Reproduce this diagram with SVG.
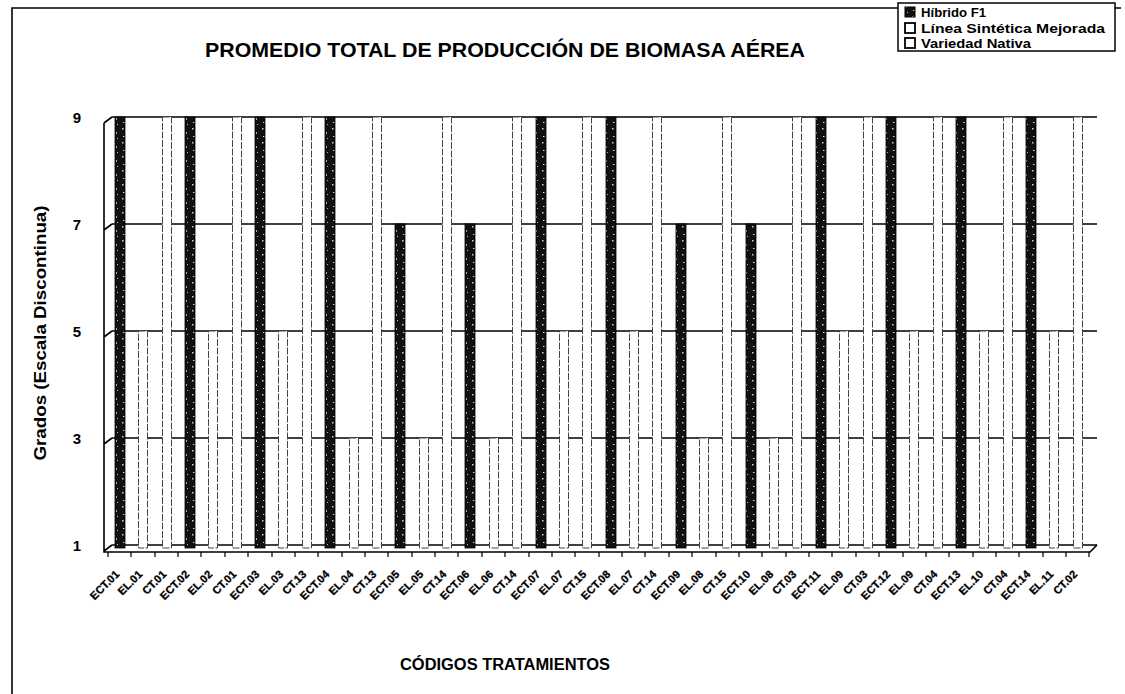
<svg xmlns="http://www.w3.org/2000/svg" width="1125" height="694" viewBox="0 0 1125 694">
<defs>
<pattern id="spk" width="10" height="14" patternUnits="userSpaceOnUse">
<rect width="10" height="14" fill="#111"/>
<rect x="2" y="2" width="1.5" height="1.5" fill="#ccc"/>
<rect x="6" y="6" width="1" height="2" fill="#aaa"/>
<rect x="3" y="10" width="1.5" height="1" fill="#ddd"/>
<rect x="7" y="12" width="1" height="1" fill="#bbb"/>
</pattern>
<style>
.t{font-family:"Liberation Sans",Arial,sans-serif;font-weight:bold;fill:#000}
.g{stroke:#000;stroke-width:1.6;fill:none}
.dk{fill:url(#spk);stroke:#000;stroke-width:0.8}
.wh{fill:#fff;stroke:#444;stroke-width:1;stroke-dasharray:7 1.5}
.xl{font-family:"Liberation Sans",Arial,sans-serif;font-weight:bold;font-size:11px;text-anchor:end;stroke:#000;stroke-width:0.3}
.tk{stroke:#000;stroke-width:1.2}
</style>
</defs>
<rect width="1125" height="694" fill="#fff"/>
<g id="frame">
<path d="M12 694 V8 H1121" fill="none" stroke="#000" stroke-width="1.6"/>
</g>
<text id="title" class="t" x="505" y="57" font-size="21" text-anchor="middle" textLength="600" lengthAdjust="spacingAndGlyphs">PROMEDIO TOTAL DE PRODUCCIÓN DE BIOMASA AÉREA</text>
<g id="legend">
<rect x="898" y="3" width="217" height="48" fill="#fff" stroke="#000" stroke-width="1.5"/>
<rect x="905" y="7" width="10" height="10" fill="url(#spk)" stroke="#000"/>
<rect x="905" y="23" width="10" height="10" fill="#fff" stroke="#000" stroke-width="1.8"/>
<rect x="905" y="38" width="10" height="10" fill="#fff" stroke="#000" stroke-width="1.8"/>
<text class="t" x="921" y="17" font-size="12.5" textLength="65" lengthAdjust="spacingAndGlyphs">Híbrido F1</text>
<text class="t" x="921" y="33" font-size="12.5" textLength="184" lengthAdjust="spacingAndGlyphs">Línea Sintética Mejorada</text>
<text class="t" x="921" y="48" font-size="12.5" textLength="110" lengthAdjust="spacingAndGlyphs">Variedad Nativa</text>
</g>
<g id="axes">
<text class="t" x="46" y="333" font-size="17" text-anchor="middle" transform="rotate(-90 46 333)" textLength="255" lengthAdjust="spacingAndGlyphs">Grados (Escala Discontinua)</text>
<g class="t" font-size="15" text-anchor="middle">
<text x="77" y="123">9</text>
<text x="77" y="230">7</text>
<text x="77" y="337">5</text>
<text x="77" y="444">3</text>
<text x="77" y="551">1</text>
</g>
<path class="g" d="M112 117 H1097 M112 224 H1097 M112 331 H1097 M112 438 H1097 M112 545 H1097"/>
<path class="g" d="M104 123 L112 117 M104 230 L112 224 M104 337 L112 331 M104 444 L112 438 M104 551 L112 545 M104 123 V552 H1090 L1097 545"/>
<path class="tk" d="M108 552V557M131 552V557M155 552V557M178 552V557M201 552V557M225 552V557M248 552V557M272 552V557M295 552V557M318 552V557M342 552V557M365 552V557M388 552V557M412 552V557M435 552V557M458 552V557M482 552V557M505 552V557M529 552V557M552 552V557M575 552V557M599 552V557M622 552V557M645 552V557M669 552V557M692 552V557M716 552V557M739 552V557M762 552V557M786 552V557M809 552V557M832 552V557M856 552V557M879 552V557M903 552V557M926 552V557M949 552V557M973 552V557M996 552V557M1019 552V557M1043 552V557M1066 552V557M1089 552V557"/>
<text class="t" x="505" y="670" font-size="16" text-anchor="middle" textLength="210" lengthAdjust="spacingAndGlyphs">CÓDIGOS TRATAMIENTOS</text>
</g>
<g id="bars-hibrido">
<rect class="dk" x="115" y="117" width="10" height="431"/>
<rect class="dk" x="185" y="117" width="10" height="431"/>
<rect class="dk" x="255" y="117" width="10" height="431"/>
<rect class="dk" x="325" y="117" width="10" height="431"/>
<rect class="dk" x="395" y="224" width="10" height="324"/>
<rect class="dk" x="465" y="224" width="10" height="324"/>
<rect class="dk" x="536" y="117" width="10" height="431"/>
<rect class="dk" x="606" y="117" width="10" height="431"/>
<rect class="dk" x="676" y="224" width="10" height="324"/>
<rect class="dk" x="746" y="224" width="10" height="324"/>
<rect class="dk" x="816" y="117" width="10" height="431"/>
<rect class="dk" x="886" y="117" width="10" height="431"/>
<rect class="dk" x="956" y="117" width="10" height="431"/>
<rect class="dk" x="1026" y="117" width="10" height="431"/>
</g>
<g id="bars-linea">
<rect class="wh" x="138.5" y="331" width="9" height="217"/>
<rect class="wh" x="208.5" y="331" width="9" height="217"/>
<rect class="wh" x="278.5" y="331" width="9" height="217"/>
<rect class="wh" x="349.5" y="438" width="9" height="110"/>
<rect class="wh" x="419.5" y="438" width="9" height="110"/>
<rect class="wh" x="489.5" y="438" width="9" height="110"/>
<rect class="wh" x="559.5" y="331" width="9" height="217"/>
<rect class="wh" x="629.5" y="331" width="9" height="217"/>
<rect class="wh" x="699.5" y="438" width="9" height="110"/>
<rect class="wh" x="769.5" y="438" width="9" height="110"/>
<rect class="wh" x="839.5" y="331" width="9" height="217"/>
<rect class="wh" x="909.5" y="331" width="9" height="217"/>
<rect class="wh" x="979.5" y="331" width="9" height="217"/>
<rect class="wh" x="1049.5" y="331" width="9" height="217"/>
</g>
<g id="bars-nativa">
<rect class="wh" x="162.5" y="117" width="9" height="431"/>
<rect class="wh" x="232.5" y="117" width="9" height="431"/>
<rect class="wh" x="302.5" y="117" width="9" height="431"/>
<rect class="wh" x="372.5" y="117" width="9" height="431"/>
<rect class="wh" x="442.5" y="117" width="9" height="431"/>
<rect class="wh" x="512.5" y="117" width="9" height="431"/>
<rect class="wh" x="582.5" y="117" width="9" height="431"/>
<rect class="wh" x="652.5" y="117" width="9" height="431"/>
<rect class="wh" x="722.5" y="117" width="9" height="431"/>
<rect class="wh" x="792.5" y="117" width="9" height="431"/>
<rect class="wh" x="863.5" y="117" width="9" height="431"/>
<rect class="wh" x="933.5" y="117" width="9" height="431"/>
<rect class="wh" x="1003.5" y="117" width="9" height="431"/>
<rect class="wh" x="1073.5" y="117" width="9" height="431"/>
</g>
<g id="xlabels">
<text class="xl" transform="translate(120 575) rotate(-45)">ECT.01</text>
<text class="xl" transform="translate(143 575) rotate(-45)">EL.01</text>
<text class="xl" transform="translate(167 575) rotate(-45)">CT.01</text>
<text class="xl" transform="translate(190 575) rotate(-45)">ECT.02</text>
<text class="xl" transform="translate(213 575) rotate(-45)">EL.02</text>
<text class="xl" transform="translate(237 575) rotate(-45)">CT.01</text>
<text class="xl" transform="translate(260 575) rotate(-45)">ECT.03</text>
<text class="xl" transform="translate(284 575) rotate(-45)">EL.03</text>
<text class="xl" transform="translate(307 575) rotate(-45)">CT.13</text>
<text class="xl" transform="translate(330 575) rotate(-45)">ECT.04</text>
<text class="xl" transform="translate(354 575) rotate(-45)">EL.04</text>
<text class="xl" transform="translate(377 575) rotate(-45)">CT.13</text>
<text class="xl" transform="translate(400 575) rotate(-45)">ECT.05</text>
<text class="xl" transform="translate(424 575) rotate(-45)">EL.05</text>
<text class="xl" transform="translate(447 575) rotate(-45)">CT.14</text>
<text class="xl" transform="translate(470 575) rotate(-45)">ECT.06</text>
<text class="xl" transform="translate(494 575) rotate(-45)">EL.06</text>
<text class="xl" transform="translate(517 575) rotate(-45)">CT.14</text>
<text class="xl" transform="translate(541 575) rotate(-45)">ECT.07</text>
<text class="xl" transform="translate(564 575) rotate(-45)">EL.07</text>
<text class="xl" transform="translate(587 575) rotate(-45)">CT.15</text>
<text class="xl" transform="translate(611 575) rotate(-45)">ECT.08</text>
<text class="xl" transform="translate(634 575) rotate(-45)">EL.07</text>
<text class="xl" transform="translate(657 575) rotate(-45)">CT.14</text>
<text class="xl" transform="translate(681 575) rotate(-45)">ECT.09</text>
<text class="xl" transform="translate(704 575) rotate(-45)">EL.08</text>
<text class="xl" transform="translate(727 575) rotate(-45)">CT.15</text>
<text class="xl" transform="translate(751 575) rotate(-45)">ECT.10</text>
<text class="xl" transform="translate(774 575) rotate(-45)">EL.08</text>
<text class="xl" transform="translate(797 575) rotate(-45)">CT.03</text>
<text class="xl" transform="translate(821 575) rotate(-45)">ECT.11</text>
<text class="xl" transform="translate(844 575) rotate(-45)">EL.09</text>
<text class="xl" transform="translate(868 575) rotate(-45)">CT.03</text>
<text class="xl" transform="translate(891 575) rotate(-45)">ECT.12</text>
<text class="xl" transform="translate(914 575) rotate(-45)">EL.09</text>
<text class="xl" transform="translate(938 575) rotate(-45)">CT.04</text>
<text class="xl" transform="translate(961 575) rotate(-45)">ECT.13</text>
<text class="xl" transform="translate(984 575) rotate(-45)">EL.10</text>
<text class="xl" transform="translate(1008 575) rotate(-45)">CT.04</text>
<text class="xl" transform="translate(1031 575) rotate(-45)">ECT.14</text>
<text class="xl" transform="translate(1054 575) rotate(-45)">EL.11</text>
<text class="xl" transform="translate(1078 575) rotate(-45)">CT.02</text>
</g>
</svg>
